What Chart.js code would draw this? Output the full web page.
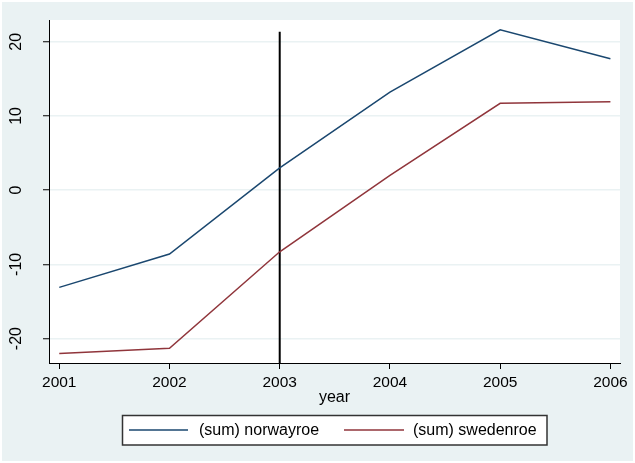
<!DOCTYPE html>
<html>
<head>
<meta charset="utf-8">
<script src="https://cdn.jsdelivr.net/npm/chart.js@4"></script>
<style>
  html, body { margin: 0; padding: 0; background: #fff; }
  #chart { display: block; }
</style>
</head>
<body>
<canvas id="chart" width="635" height="463"></canvas>
<script>
// data
const years = [2001, 2002, 2003, 2004, 2005, 2006];
const norwayroe = [-13.1, -8.6, 3.0, 13.2, 21.6, 17.7];
const swedenroe = [-22.0, -21.3, -8.3, 2.0, 11.7, 11.9];
const yTicks = [-20, -10, 0, 10, 20];
const seriesNames = ['(sum) norwayroe', '(sum) swedenroe'];
const refYear = 2003;
const refTop = 21.35;

const yMin = -23.29, yMax = 22.93;
const xMin = 2000.907, xMax = 2006.087;

const FONT = '"Liberation Sans", Arial, sans-serif';
const NAVY = '#1a476f', MAROON = '#90353b', BG = '#eaf2f3';

const toPts = arr => years.map((x, i) => ({ x: x, y: arr[i] }));

// background + white plot region
const bgPlugin = {
    id: 'bg',
    beforeDraw(chart) {
        const ctx = chart.ctx, a = chart.chartArea;
        ctx.save();
        ctx.fillStyle = '#fff';
        ctx.fillRect(0, 0, chart.width, chart.height);
        ctx.fillStyle = BG;
        ctx.fillRect(2, 2, chart.width - 4, chart.height - 4);
        ctx.fillStyle = '#fff';
        ctx.fillRect(a.left, a.top, a.right - a.left, a.bottom - a.top);
        ctx.restore();
    }
};

// rotated y labels, x title, legend box
const extrasPlugin = {
    id: 'extras',
    afterDraw(chart) {
        const ctx = chart.ctx, ys = chart.scales.y, xs = chart.scales.x;
        ctx.save();
        ctx.fillStyle = '#000';
        ctx.font = '16px ' + FONT;
        ctx.textAlign = 'center';
        ctx.textBaseline = 'middle';
        yTicks.forEach(v => {
            ctx.save();
            ctx.translate(17, ys.getPixelForValue(v));
            ctx.rotate(-Math.PI / 2);
            ctx.fillText(String(v), 0, 0);
            ctx.restore();
        });

        ctx.font = '16px ' + FONT;
        ctx.fillText('year', (xs.left + xs.right) / 2, 398);

        // legend
        ctx.fillStyle = '#fff';
        ctx.fillRect(122, 415, 425, 30);
        ctx.strokeStyle = '#333';
        ctx.lineWidth = 1.5;
        ctx.strokeRect(122.5, 415.5, 424.5, 29.5);
        const items = [
            { color: NAVY, x0: 129, x1: 188, tx: 199 },
            { color: MAROON, x0: 344, x1: 404, tx: 413 }
        ];
        ctx.textAlign = 'left';
        ctx.font = '16px ' + FONT;
        items.forEach((it, i) => {
            ctx.strokeStyle = it.color;
            ctx.lineWidth = 1.5;
            ctx.beginPath();
            ctx.moveTo(it.x0, 430);
            ctx.lineTo(it.x1, 430);
            ctx.stroke();
            ctx.fillStyle = '#000';
            ctx.fillText(seriesNames[i], it.tx, 431);
        });
        ctx.restore();
    }
};

new Chart(document.getElementById('chart'), {
    type: 'line',
    data: {
        datasets: [
            { label: seriesNames[0], data: toPts(norwayroe), borderColor: NAVY, borderWidth: 1.5, pointRadius: 0, tension: 0 },
            { label: seriesNames[1], data: toPts(swedenroe), borderColor: MAROON, borderWidth: 1.5, pointRadius: 0, tension: 0 },
            { label: 'ref', data: [{ x: refYear, y: yMin }, { x: refYear, y: refTop }], borderColor: '#000', borderWidth: 2, pointRadius: 0 }
        ]
    },
    options: {
        responsive: false,
        devicePixelRatio: 1,
        animation: false,
        layout: { padding: { top: 20, right: 15, left: 0, bottom: 0 } },
        plugins: { legend: { display: false }, tooltip: { enabled: false } },
        scales: {
            x: {
                type: 'linear', min: xMin, max: xMax,
                afterFit(s) { s.height = 100; s.paddingLeft = 0; s.paddingRight = 0; },
                ticks: {
                    stepSize: 1, includeBounds: false, autoSkip: false, maxRotation: 0,
                    callback: v => String(v),
                    font: { family: FONT, size: 15.5 }, color: '#000', padding: 4
                },
                grid: { drawOnChartArea: false, drawTicks: true, tickLength: 6, color: '#000' },
                border: { display: true, color: '#000', width: 1 }
            },
            y: {
                min: yMin, max: yMax,
                afterFit(s) { s.width = 49; },
                afterBuildTicks(s) { s.ticks = yTicks.map(v => ({ value: v })); },
                ticks: { display: false },
                grid: { color: BG, lineWidth: 1.5, drawTicks: true, tickLength: 6, tickColor: '#000', tickWidth: 1 },
                border: { display: true, color: '#000', width: 1 }
            }
        }
    },
    plugins: [bgPlugin, extrasPlugin]
});
</script>
</body>
</html>
